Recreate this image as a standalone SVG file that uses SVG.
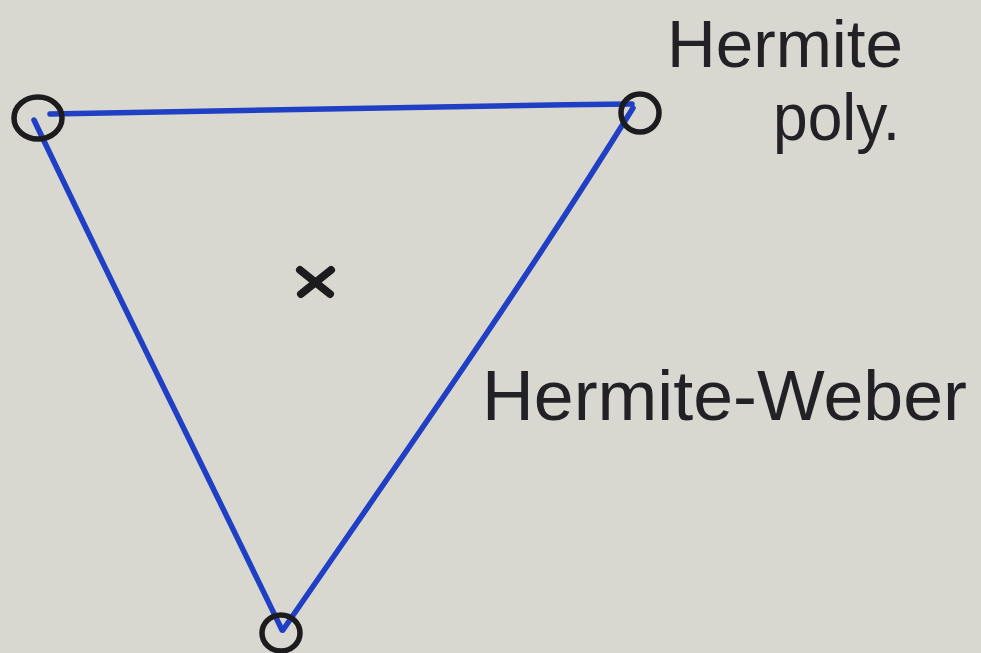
<svg xmlns="http://www.w3.org/2000/svg" width="981" height="653" viewBox="0 0 981 653">
<style>
.edge{fill:none;stroke:#1f3fc4;stroke-width:5.5;stroke-linecap:round;stroke-linejoin:round}
.vert{fill:none;stroke:#1c1c1e;stroke-width:5.5}
.lbl{font-family:"Liberation Sans","DejaVu Sans",sans-serif;fill:#222226;font-weight:normal}
</style>
<rect x="0" y="0" width="981" height="653" fill="#d9d8d0"/>
<g id="connectors">
<path class="edge" d="M50,114 C200,110 420,106 632,104"/>
<path class="edge" d="M34,120 C110,280 200,460 282,630"/>
<path class="edge" d="M633,108 C520,290 400,460 283,630"/>
</g>
<g id="node-topleft"><ellipse class="vert" cx="38" cy="118" rx="24" ry="21"/></g>
<g id="node-topright"><ellipse class="vert" cx="640" cy="113" rx="19" ry="19"/></g>
<g id="node-bottom"><ellipse class="vert" cx="281" cy="633" rx="19" ry="18"/></g>
<g id="center-mark">
<path d="M300,270 L330,294 M331,270 L301,294" stroke="#1c1c1e" stroke-width="8" stroke-linecap="round"/>
</g>
<g id="label-hermite-poly">
<text class="lbl" x="667" y="67" font-size="66" textLength="236" lengthAdjust="spacingAndGlyphs">Hermite</text>
<text class="lbl" x="773" y="140" font-size="66" textLength="127" lengthAdjust="spacingAndGlyphs">poly.</text>
</g>
<g id="label-hermite-weber">
<text class="lbl" x="482" y="420" font-size="70" textLength="485" lengthAdjust="spacingAndGlyphs">Hermite-Weber</text>
</g>
</svg>
